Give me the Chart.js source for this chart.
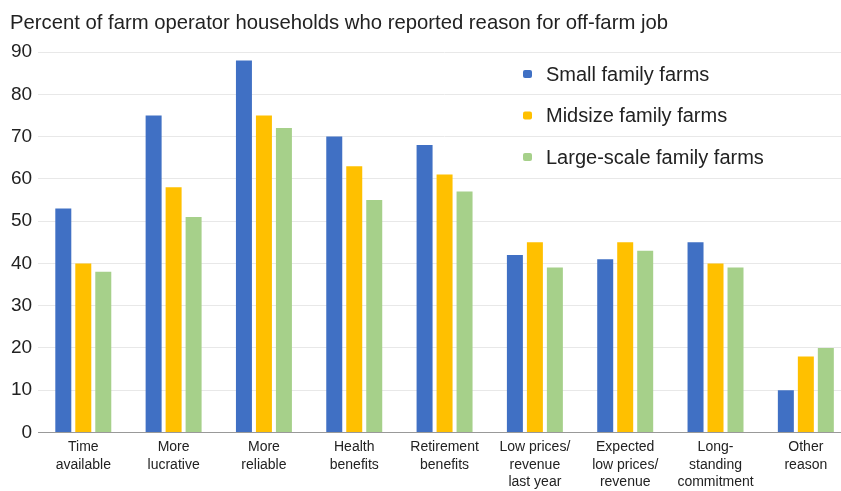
<!DOCTYPE html>
<html><head><meta charset="utf-8">
<script src="https://cdn.jsdelivr.net/npm/chart.js@4"></script>
<style>html,body{margin:0;padding:0;background:#fff;overflow:hidden}#wrap{width:851px;height:491px}</style>
</head><body><div id="wrap"><canvas id="c"></canvas></div>
<script>
const titleText = "Percent of farm operator households who reported reason for off-farm job";
const categories = [
  ["Time","available"],["More","lucrative"],["More","reliable"],["Health","benefits"],
  ["Retirement","benefits"],["Low prices/","revenue","last year"],["Expected","low prices/","revenue"],
  ["Long-","standing","commitment"],["Other","reason"]
];
const seriesNames = ["Small family farms","Midsize family farms","Large-scale family farms"];
const small = [53,75,88,70,68,42,41,45,10];
const midsize = [40,58,75,63,61,45,45,40,18];
const large = [38,51,72,55,57,39,43,39,20];
const yTicks = [0,10,20,30,40,50,60,70,80,90];
const colors = ["#4070C4","#FFC000","#A6D08A"];

const overlayPlugin = {
  id:'overlay',
  afterDraw(chart){
    const ctx = chart.ctx;
    ctx.save();
    ctx.fillStyle = '#222';
    ctx.textBaseline = 'alphabetic';
    ctx.font = '20.3px "Liberation Sans", Arial, sans-serif';
    ctx.fillText(titleText, 10, 29);
    ctx.font = '20px "Liberation Sans", Arial, sans-serif';
    ctx.textBaseline = 'middle';
    chart.data.datasets.forEach((ds,i)=>{
      const y = 74 + i*41.5;
      ctx.fillStyle = ds.backgroundColor;
      ctx.beginPath();
      ctx.roundRect(523, y-4, 9, 8, 2);
      ctx.fill();
      ctx.fillStyle = '#222';
      ctx.fillText(ds.label, 546, y+1);
    });
    ctx.restore();
  }
};

new Chart(document.getElementById('c'), {
  type:'bar',
  data:{
    labels: categories,
    datasets:[
      {label:seriesNames[0], data:small, backgroundColor:colors[0]},
      {label:seriesNames[1], data:midsize, backgroundColor:colors[1]},
      {label:seriesNames[2], data:large, backgroundColor:colors[2]}
    ]
  },
  options:{
    responsive:true, maintainAspectRatio:false, animation:false,
    layout:{padding:{left:5,right:0,top:52,bottom:-6}},
    datasets:{bar:{categoryPercentage:0.664,barPercentage:0.8}},
    plugins:{
      legend:{display:false},
      tooltip:{enabled:false},
      title:{display:false}
    },
    scales:{
      x:{
        grid:{display:false, drawTicks:false},
        border:{display:true,color:'#999'},
        ticks:{color:'#222', maxRotation:0, autoSkip:false, padding:6,
          font:{family:'"Liberation Sans", Arial, sans-serif', size:14, lineHeight:1.25}}
      },
      y:{
        min:0,max:90,
        afterBuildTicks(axis){ axis.ticks = yTicks.map(v=>({value:v})); },
        grid:{color:'#e8e8e8', drawTicks:false},
        border:{display:false},
        ticks:{color:'#222', padding:6, font:{family:'"Liberation Sans", Arial, sans-serif', size:19}}
      }
    }
  },
  plugins:[overlayPlugin]
});
</script></body></html>
